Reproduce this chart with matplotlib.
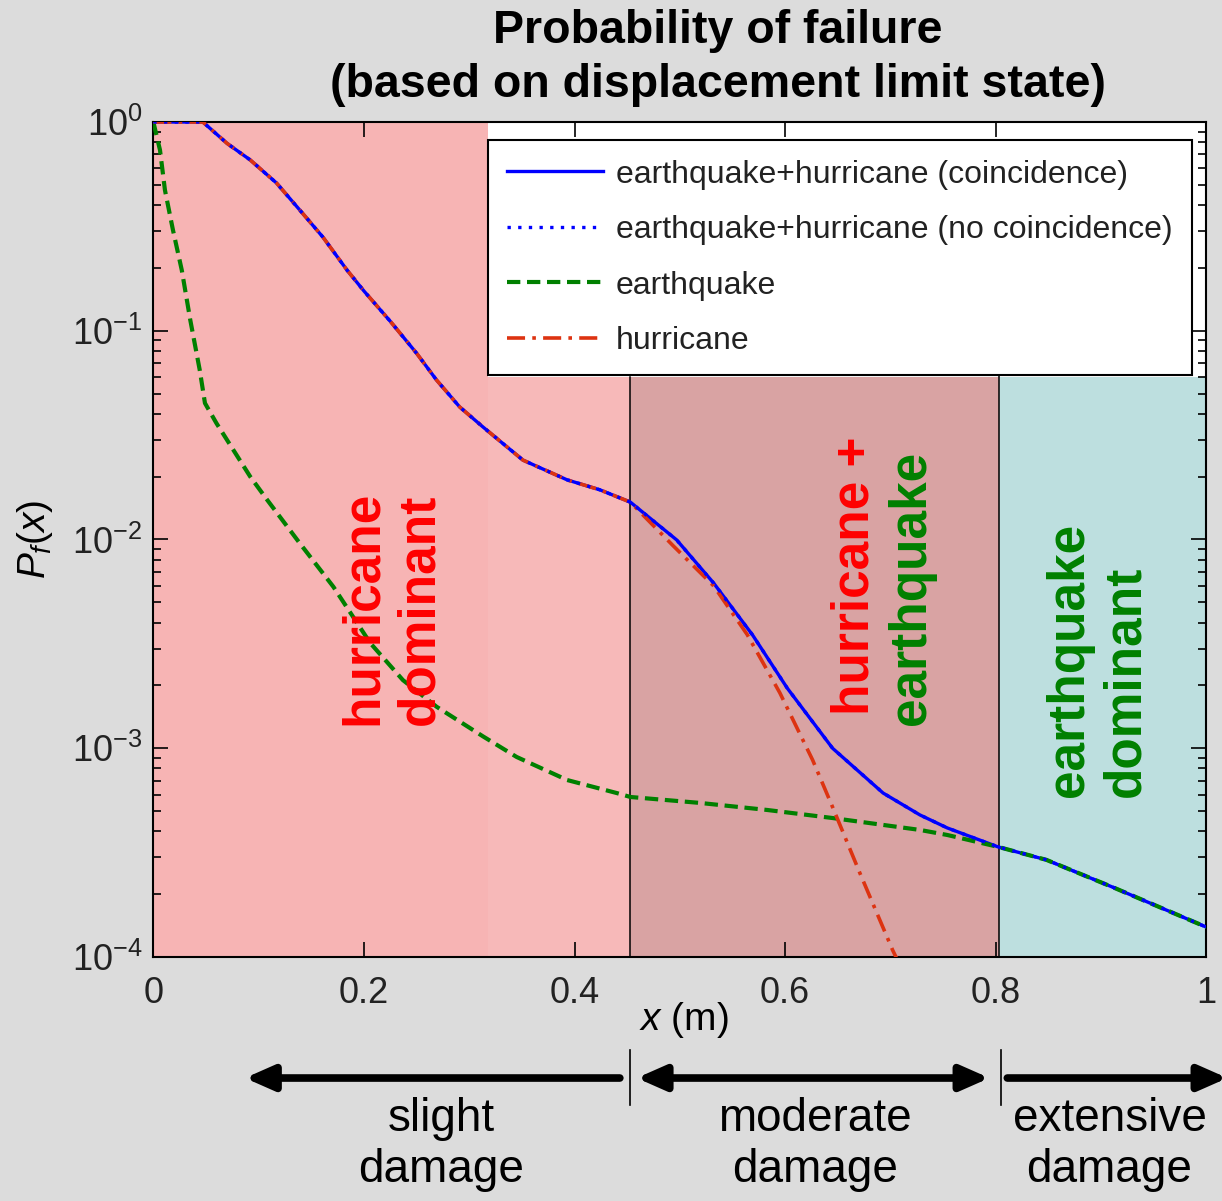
import numpy as np
import matplotlib.pyplot as plt

plt.rcParams['font.family'] = ['Liberation Sans', 'DejaVu Sans']
plt.rcParams['mathtext.fontset'] = 'custom'
plt.rcParams['mathtext.rm'] = 'Liberation Sans'
plt.rcParams['mathtext.it'] = 'Liberation Sans:italic'
plt.rcParams['axes.unicode_minus'] = False

# earthquake + hurricane (coincidence / no coincidence read as the same curve)
x_comb = [0, 0.047, 0.07, 0.092, 0.117, 0.139, 0.161, 0.184, 0.2, 0.225, 0.25, 0.269,
          0.291, 0.313, 0.351, 0.393, 0.424, 0.453, 0.497, 0.532, 0.569, 0.602, 0.645,
          0.693, 0.728, 0.754, 0.802, 0.848, 0.911, 1.0]
p_coinc = [1.0, 1.0, 0.79, 0.658, 0.51, 0.379, 0.281, 0.195, 0.155, 0.111, 0.078, 0.058,
           0.0431, 0.0346, 0.024, 0.0193, 0.0173, 0.0151, 0.00995, 0.00619, 0.00349, 0.00194,
           0.001, 0.00061, 0.000479, 0.000415, 0.000337, 0.000292, 0.000216, 0.000139]
p_no_coinc = list(p_coinc)

# earthquake only
x_eq = [0, 0.0063, 0.011, 0.0186, 0.027, 0.035, 0.044, 0.049, 0.06, 0.092, 0.108, 0.139,
        0.171, 0.206, 0.237, 0.269, 0.313, 0.345, 0.393, 0.44, 0.453, 0.519, 0.583, 0.645,
        0.728, 0.754, 0.802, 0.848, 0.911, 1.0]
p_eq = [1.0, 0.734, 0.472, 0.304, 0.195, 0.113, 0.065, 0.045, 0.036, 0.02, 0.0155, 0.0096,
        0.00593, 0.00319, 0.00212, 0.00158, 0.00114, 0.000908, 0.000704, 0.00061, 0.000584,
        0.000547, 0.000506, 0.000463, 0.000406, 0.000384, 0.000337, 0.000292, 0.000216, 0.000139]

# hurricane only
x_hu = [0, 0.047, 0.07, 0.092, 0.117, 0.139, 0.161, 0.184, 0.2, 0.225, 0.25, 0.269,
        0.291, 0.313, 0.351, 0.393, 0.424, 0.453, 0.493, 0.532, 0.564, 0.595, 0.626,
        0.645, 0.671, 0.702, 0.72]
p_hu = [1.0, 1.0, 0.79, 0.658, 0.51, 0.379, 0.281, 0.195, 0.155, 0.111, 0.078, 0.058,
        0.0431, 0.0346, 0.024, 0.0193, 0.0173, 0.0151, 0.0094, 0.006, 0.0035, 0.00184, 0.00088,
        0.000523, 0.000252, 0.000108, 0.00007]

# dominance zones and damage states
zone_edges = [0.318, 0.453, 0.803, 1.0]
zone_colors = ['#f7b9b9', '#d9a3a3', '#bddfdf']
zone_top = 0.06
damage_labels = ['slight\ndamage', 'moderate\ndamage', 'extensive\ndamage']
damage_mid = [0.273, 0.628, 0.908]
damage_bounds = [0.453, 0.805]

fig = plt.figure(figsize=(12.22, 12.01), dpi=100, facecolor='#dcdcdc')
ax = fig.add_axes([0.1255, 0.2032, 0.8617, 0.6952])
ax.set_yscale('log')
ax.set_xlim(0, 1)
ax.set_ylim(1e-4, 1)

ax.axvspan(0, zone_edges[0], color='#f7b4b4', lw=0, zorder=0)
for a, b, c in zip(zone_edges[:-1], zone_edges[1:], zone_colors):
    ax.fill_between([a, b], 1e-4, zone_top, color=c, lw=0, zorder=0)
ax.plot([0.453, 0.453], [1e-4, zone_top], color='black', lw=1.1, zorder=1)
ax.plot([0.803, 0.803], [1e-4, 0.065], color='black', lw=1.1, zorder=1)

ax.plot(x_comb, p_coinc, color='#0000ff', lw=2.4, zorder=3,
        label='earthquake+hurricane (coincidence)')
ax.plot(x_eq, p_eq, color='#008000', lw=3.0, ls=(0, (3.2, 1.6)), zorder=4,
        label='earthquake')
ax.plot(x_hu, p_hu, color='#dd3311', lw=2.6, ls=(0, (5, 2, 1, 2)), zorder=4,
        label='hurricane')
ax.plot(x_comb, p_no_coinc, color='#0000ff', lw=2.4, ls=(0, (1, 2.2)), zorder=5,
        label='earthquake+hurricane (no coincidence)')

h, l = ax.get_legend_handles_labels()
order = [0, 3, 1, 2]
leg = ax.legend([h[i] for i in order], [l[i] for i in order], loc='upper right',
                bbox_to_anchor=(0.986, 0.978), borderaxespad=0, fontsize=23,
                frameon=True, fancybox=False, edgecolor='black', framealpha=1,
                handlelength=3.0, handletextpad=0.4, labelspacing=0.8, borderpad=0.6)
leg.get_frame().set_linewidth(1.5)
leg.set_zorder(10)
for t in leg.get_texts():
    t.set_color('#222222')

txt = dict(rotation=90, fontsize=37, fontweight='bold', ha='center', va='bottom',
           multialignment='left', zorder=6)
ax.text(0.226, 0.00129, 'hurricane\ndominant', color='#ff0000', **txt)
ax.text(0.666, 0.00144, 'hurricane +', color='#ff0000', **txt)
ax.text(0.72, 0.00129, 'earthquake', color='#008000', **txt)
ax.text(0.897, 0.000584, 'earthquake\ndominant', color='#008000', **txt)

ax.set_xticks([0, 0.2, 0.4, 0.6, 0.8, 1])
ax.set_xticklabels(['0', '0.2', '0.4', '0.6', '0.8', '1'])
ax.tick_params(which='both', direction='in', top=True, right=True, labelsize=26,
               labelcolor='#222222', width=1.2)
ax.tick_params(which='major', length=11)
ax.tick_params(which='minor', length=6)
ax.tick_params(axis='x', pad=14)
ax.tick_params(axis='y', pad=8)
for s in ax.spines.values():
    s.set_linewidth(1.5)

ax.set_ylabel(r'$P_f(x)$', fontsize=28, labelpad=12)
ax.text(0.504, -0.075, r'$x$ (m)', transform=ax.transAxes, fontsize=28,
        ha='center', va='center')

fig.text(0.5876, 0.952, 'Probability of failure\n(based on displacement limit state)',
         fontsize=33.5, fontweight='bold', ha='center', va='center', linespacing=1.3)

# damage state arrows under the axis
tr = ax.get_xaxis_transform()
arr_y = -0.145
head = 'head_length=1.7,head_width=0.75'
ax.annotate('', xy=(0.087, arr_y), xytext=(0.443, arr_y), xycoords=tr, textcoords=tr,
            annotation_clip=False,
            arrowprops=dict(arrowstyle='-|>,' + head, lw=5.5, color='black',
                            mutation_scale=10, shrinkA=0, shrinkB=0))
ax.annotate('', xy=(0.459, arr_y), xytext=(0.794, arr_y), xycoords=tr, textcoords=tr,
            annotation_clip=False,
            arrowprops=dict(arrowstyle='<|-|>,' + head, lw=5.5, color='black',
                            mutation_scale=10, shrinkA=0, shrinkB=0))
ax.annotate('', xy=(1.02, arr_y), xytext=(0.811, arr_y), xycoords=tr, textcoords=tr,
            annotation_clip=False,
            arrowprops=dict(arrowstyle='-|>,' + head, lw=5.5, color='black',
                            mutation_scale=10, shrinkA=0, shrinkB=0))
for xb in damage_bounds:
    ax.plot([xb, xb], [-0.111, -0.177], transform=tr, color='black', lw=1.2, clip_on=False)
for xm, lab in zip(damage_mid, damage_labels):
    ax.text(xm, -0.225, lab, transform=tr, fontsize=33, ha='center', va='center',
            linespacing=1.2)

fig.savefig('out.png', dpi=100, facecolor=fig.get_facecolor())
